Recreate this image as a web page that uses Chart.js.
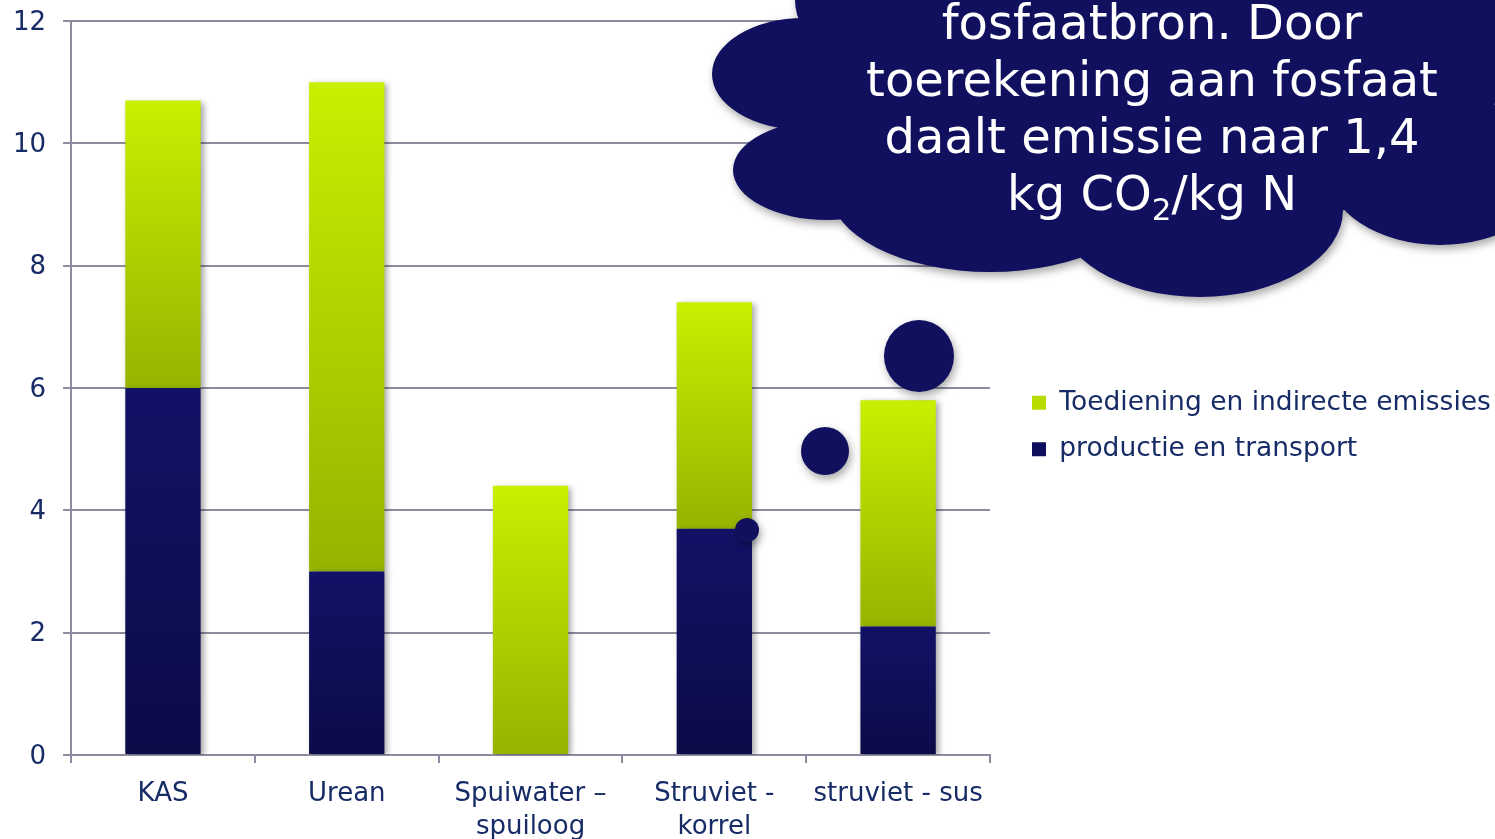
<!DOCTYPE html>
<html>
<head>
<meta charset="utf-8">
<script src="https://cdn.jsdelivr.net/npm/chart.js@4"></script>
<style>
html,body{margin:0;padding:0;background:#fff;overflow:hidden}
#wrap{position:relative;width:1495px;height:839px}
</style>
</head>
<body>
<div id="wrap"><canvas id="c"></canvas></div>
<script>
// ---- data ----
const categories = ['KAS', 'Urean', ['Spuiwater \u2013', 'spuiloog'], ['Struviet -', 'korrel'], 'struviet - sus'];
const seriesProductie = [6.0, 3.0, 0, 3.7, 2.1];
const seriesToediening = [4.7, 8.0, 4.4, 3.7, 3.7];
const seriesNames = ['productie en transport', 'Toediening en indirecte emissies'];
const yTickValues = [0, 2, 4, 6, 8, 10, 12];
const cloudLines = ['fosfaatbron. Door', 'toerekening aan fosfaat', 'daalt emissie naar 1,4'];
const cloudLastLine = ['kg CO', '2', '/kg N'];

// ---- styles ----
const FONT = 'DejaVu Sans';
const textColor = '#172c66';
const gridColor = '#8c8ca0';
const navy = '#10105e';

function segmentGradient(series) {
  return function (ctx) {
    const chart = ctx.chart;
    const y = chart.scales && chart.scales.y;
    const colors = series === 0 ? ['#111266', '#0b0b48'] : ['#c8f000', '#97b300'];
    const solid = series === 0 ? '#0f0f5e' : '#b4d800';
    if (ctx.type !== 'data' || !y || !chart.chartArea) return solid;
    const i = ctx.dataIndex;
    const lo = series === 0 ? 0 : seriesProductie[i];
    const hi = series === 0 ? seriesProductie[i] : seriesProductie[i] + seriesToediening[i];
    const yTop = y.getPixelForValue(hi), yBot = y.getPixelForValue(lo);
    if (!(yBot - yTop > 0.5)) return solid;
    const g = chart.ctx.createLinearGradient(0, yTop, 0, yBot);
    g.addColorStop(0, colors[0]);
    g.addColorStop(1, colors[1]);
    return g;
  };
}

const barShadow = {
  id: 'barShadow',
  beforeDatasetsDraw(chart) {
    const c = chart.ctx;
    c.save();
    c.shadowColor = 'rgba(0,0,0,0.35)';
    c.shadowBlur = 6;
    c.shadowOffsetX = 3;
    c.shadowOffsetY = 2;
  },
  afterDatasetsDraw(chart) { chart.ctx.restore(); }
};

const legendPlace = {
  id: 'legendPlace',
  beforeLayout(chart) {
    const lg = chart.legend;
    if (lg && !lg._wrapped) {
      const f = lg.fit;
      lg.fit = function () { f.call(this); this.width = Math.max(this.width, chart.width - 990); };
      lg._wrapped = true;
    }
  },
  afterLayout(chart) {
    const lg = chart.legend;
    if (!lg) return;
    const dx = (1032 - 20) - lg.left;
    lg.left += dx; lg.right += dx;
    const dy = -2;
    lg.top += dy; lg.bottom += dy;
  }
};

const cloud = {
  id: 'cloud',
  afterDraw(chart) {
    const c = chart.ctx;
    c.save();
    const lobes = [[804,74,92,56],[827,170,94,50],[990,190,160,82],[1200,210,143,87],[1440,170,113,75],[905,0,110,75],[1120,100,330,150],[1420,30,130,90]];
    c.beginPath();
    lobes.forEach(([x,y,rx,ry]) => { c.moveTo(x + rx, y); c.ellipse(x, y, rx, ry, 0, 0, Math.PI * 2); });
    c.shadowColor = 'rgba(0,0,0,0.35)';
    c.shadowBlur = 8; c.shadowOffsetX = 2; c.shadowOffsetY = 4;
    c.fillStyle = navy;
    c.fill();
    const bubbles = [[919,356,35,36],[825,451,24,24],[747,530,12,12]];
    bubbles.forEach(([x,y,rx,ry]) => { c.beginPath(); c.ellipse(x, y, rx, ry, 0, 0, Math.PI * 2); c.fill(); });
    c.shadowColor = 'transparent';
    c.fillStyle = '#ffffff';
    c.textBaseline = 'alphabetic';
    c.textAlign = 'center';
    c.font = '48px "' + FONT + '"';
    const cx = 1152;
    cloudLines.forEach((t, k) => c.fillText(t, cx, 39 + 57 * k));
    const big = '48px "' + FONT + '"', small = '31px "' + FONT + '"';
    c.font = big; const w1 = c.measureText(cloudLastLine[0]).width, w3 = c.measureText(cloudLastLine[2]).width;
    c.font = small; const w2 = c.measureText(cloudLastLine[1]).width;
    let x = cx - (w1 + w2 + w3) / 2;
    c.textAlign = 'left';
    c.font = big; c.fillText(cloudLastLine[0], x, 210); x += w1;
    c.font = small; c.fillText(cloudLastLine[1], x, 220); x += w2;
    c.font = big; c.fillText(cloudLastLine[2], x, 210);
    c.restore();
  }
};

const legendFills = ['#0f0f5e', '#b8dc00'];

new Chart(document.getElementById('c'), {
  type: 'bar',
  data: {
    labels: categories,
    datasets: [
      { label: seriesNames[0], data: seriesProductie, backgroundColor: segmentGradient(0), borderWidth: 0, categoryPercentage: 1, barPercentage: 0.41 },
      { label: seriesNames[1], data: seriesToediening, backgroundColor: segmentGradient(1), borderWidth: 0, categoryPercentage: 1, barPercentage: 0.41 }
    ]
  },
  options: {
    responsive: true,
    maintainAspectRatio: false,
    animation: false,
    events: [],
    layout: { padding: { top: 0, left: -4, right: 0, bottom: -17 } },
    plugins: {
      legend: {
        position: 'right',
        reverse: true,
        labels: {
          boxWidth: 14, boxHeight: 14, padding: 20, color: textColor, font: { family: FONT, size: 26.5 },
          generateLabels(chart) {
            const items = Chart.defaults.plugins.legend.labels.generateLabels(chart);
            items.forEach(it => { it.fillStyle = legendFills[it.datasetIndex]; it.strokeStyle = legendFills[it.datasetIndex]; it.lineWidth = 0; });
            return items;
          }
        }
      },
      tooltip: { enabled: false }
    },
    scales: {
      x: {
        stacked: true,
        afterFit(scale) { scale.height -= 3; },
        grid: { offset: true, drawOnChartArea: false, color: gridColor, lineWidth: 2, tickLength: 8 },
        border: { color: gridColor, width: 2 },
        ticks: { color: textColor, font: { family: FONT, size: 26, lineHeight: 1.27 }, padding: 15, maxRotation: 0, autoSkip: false }
      },
      y: {
        stacked: true,
        min: yTickValues[0],
        max: yTickValues[yTickValues.length - 1],
        afterBuildTicks(scale) { scale.ticks = yTickValues.map(v => ({ value: v })); },
        grid: { color: gridColor, lineWidth: 2, tickLength: 8 },
        border: { color: gridColor, width: 2 },
        ticks: { color: textColor, font: { family: FONT, size: 26, lineHeight: 0.31 }, padding: 17, labelOffset: 2 }
      }
    }
  },
  plugins: [barShadow, legendPlace, cloud]
});
</script>
</body>
</html>
